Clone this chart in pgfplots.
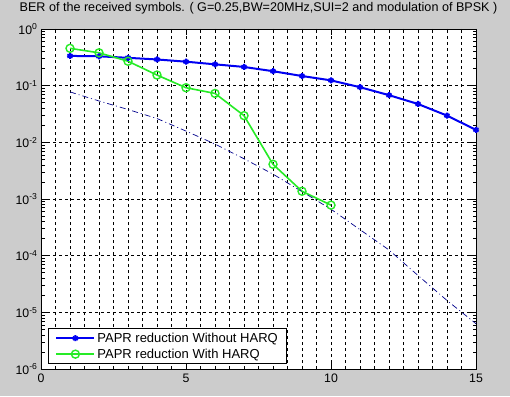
\documentclass[border=0pt]{standalone}
\usepackage{fontspec}
\setmainfont{Liberation Sans}
\usepackage{pgfplots}
\pgfplotsset{compat=1.18}
\definecolor{figbg}{gray}{0.8}
\definecolor{mblue}{rgb}{0,0,0.95}
\definecolor{mgreen}{rgb}{0.15,0.92,0.15}
\definecolor{mnavy}{rgb}{0,0,0.55}
\begin{document}
\begin{tikzpicture}
\path[use as bounding box, fill=figbg] (0,0) rectangle (510pt,396pt);
\begin{axis}[
  at={(41pt,27pt)}, anchor=south west,
  width=435pt, height=340pt, scale only axis,
  axis background/.style={fill=white},
  xmin=0, xmax=15, ymin=1e-6, ymax=1, ymode=log,
  xtick={0,5,10,15}, xticklabels={0,5,10,15},
  minor x tick num=9,
  ytick={1e-6,1e-5,1e-4,1e-3,1e-2,1e-1,1},
  yticklabels={10\textsuperscript{-6},10\textsuperscript{-5},10\textsuperscript{-4},10\textsuperscript{-3},10\textsuperscript{-2},10\textsuperscript{-1},10\textsuperscript{0}},
  minor ytick={2e-6,3e-6,4e-6,5e-6,6e-6,7e-6,8e-6,9e-6,
    2e-5,3e-5,4e-5,5e-5,6e-5,7e-5,8e-5,9e-5,
    2e-4,3e-4,4e-4,5e-4,6e-4,7e-4,8e-4,9e-4,
    2e-3,3e-3,4e-3,5e-3,6e-3,7e-3,8e-3,9e-3,
    2e-2,3e-2,4e-2,5e-2,6e-2,7e-2,8e-2,9e-2,
    0.2,0.3,0.4,0.5,0.6,0.7,0.8,0.9},
  xmajorgrids=true, xminorgrids=true, ymajorgrids=true, yminorgrids=false,
  major grid style={black, line width=0.6pt, dash pattern=on 3pt off 3pt},
  minor grid style={black, line width=0.6pt, dash pattern=on 3pt off 3pt},
  tick align=inside,
  major tick length=6pt, minor tick length=3.5pt,
  every tick/.style={black, line width=0.6pt},
  axis line style={black, line width=0.8pt},
  tick label style={font=\fontsize{12.3}{14}\selectfont},
  xticklabel style={yshift=-1pt},
  title={BER of the received symbols. ( G=0.25,BW=20MHz,SUI=2 and modulation of BPSK )},
  title style={font=\fontsize{12.6}{14}\selectfont, anchor=base, at={(0.5,1)}, yshift=11pt},
  legend style={at={(0,0)}, anchor=south west, xshift=7pt, yshift=5pt,
    draw=black, line width=0.8pt, fill=white, font=\fontsize{13}{14}\selectfont,
    inner xsep=7pt, inner ysep=2pt, row sep=1pt, cells={anchor=west}},
  legend cell align=left,
  legend image code/.code={\draw[mark repeat=2,mark phase=2,#1] plot coordinates {(0pt,0pt)(19pt,0pt)(38pt,0pt)};},
]
\addplot[mblue, line width=2pt, mark=asterisk, mark size=3pt, mark options={line width=2pt}]
coordinates {(1,0.335)(2,0.33)(3,0.31)(4,0.29)(5,0.265)(6,0.238)(7,0.214)(8,0.18)(9,0.148)(10,0.124)(11,0.094)(12,0.068)(13,0.0475)(14,0.0296)(15,0.0166)};
\addlegendentry{PAPR reduction Without HARQ}
\addplot[mgreen, line width=1.6pt, mark=o, mark size=4pt, mark options={line width=1.4pt}]
coordinates {(1,0.456)(2,0.38)(3,0.27)(4,0.154)(5,0.092)(6,0.073)(7,0.0296)(8,0.0041)(9,0.00137)(10,0.00078)};
\addlegendentry{PAPR reduction With HARQ}
\addplot[mnavy, line width=0.7pt, dash pattern=on 6pt off 3pt on 1pt off 3pt, forget plot]
coordinates {(1,0.0776)(2,0.0537)(3,0.038)(4,0.0263)(5,0.0158)(6,0.00933)(7,0.00513)(8,0.00275)(9,0.00135)(10,0.00066)(11,0.000288)(12,0.000126)(13,4.47e-5)(14,1.62e-5)(15,6.3e-6)};
\end{axis}
\end{tikzpicture}
\end{document}
